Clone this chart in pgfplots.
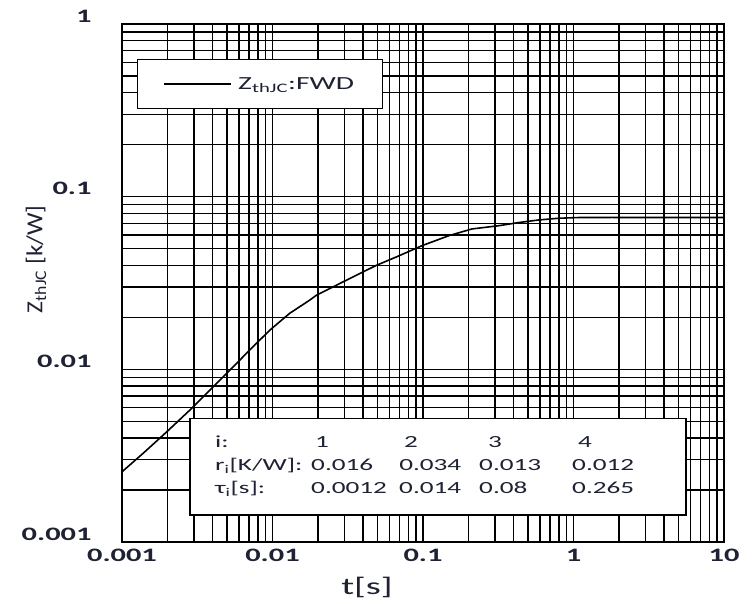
\documentclass[border=0pt]{standalone}
\usepackage{fontspec}
\setmainfont[FakeStretch=1.6]{Carlito}
\newfontfamily\ylabfont[FakeStretch=1.1]{Carlito}
\usepackage{pgfplots}
\pgfplotsset{compat=1.18}
\definecolor{txt}{RGB}{30,34,50}

\begin{document}
\begin{tikzpicture}
\useasboundingbox (-122bp,-62bp) rectangle (632bp,542bp);
\begin{axis}[
  at={(0,0)}, anchor=south west,
  scale only axis, width=602bp, height=518bp,
  xmode=log, ymode=log,
  xmin=0.001, xmax=10, ymin=0.001, ymax=1,
  xtick={0.001,0.01,0.1,1,10}, xticklabels={0.001,0.01,0.1,1,10},
  ytick={0.001,0.01,0.1,1}, yticklabels={0.001,0.01,0.1,1},
  grid=both,
  major grid style={black, line width=1.4bp},
  minor grid style={black, line width=1.4bp},
  axis line style={black, line width=1.5bp},
  major tick length=0pt, minor tick length=0pt,
  tick label style={font=\fontsize{19bp}{23bp}\selectfont\bfseries, text=txt},
  xticklabel style={yshift=-4bp},
  yticklabel style={xshift=-27bp, yshift=8bp},
  xlabel={t[s]},
  ylabel={\ylabfont Z\textsubscript{thJC} [k/W]},
  xlabel style={font=\fontsize{24bp}{28bp}\selectfont, text=txt,
    at={(axis description cs:0.407,-0.088)}, anchor=center},
  ylabel style={font=\fontsize{23bp}{27bp}\selectfont, text=txt,
    at={(axis description cs:-0.143,0.546)}, anchor=center},
  legend style={at={(axis description cs:0.025,0.932)}, anchor=north west,
    draw=black, line width=1.2bp, fill=white, text=txt,
    font=\fontsize{18.5bp}{22bp}\selectfont, inner xsep=26bp, inner ysep=15.5bp,
    column sep=4bp},
  legend image code/.code={\draw[black, line width=1.6bp] (0bp,0bp) -- (67bp,0bp);},
]
\addplot[black, line width=1.6bp] coordinates {
  (0.001,0.00255) (0.00138,0.00326) (0.00198,0.00434) (0.00282,0.00580)
  (0.00383,0.00757) (0.00519,0.00986) (0.00704,0.0129) (0.00955,0.0168)
  (0.0130,0.0211) (0.0176,0.0251) (0.0195,0.0268) (0.0292,0.0320)
  (0.0486,0.0399) (0.0659,0.0446) (0.0989,0.0521) (0.149,0.0595)
  (0.211,0.0650) (0.319,0.0679) (0.432,0.0708) (0.586,0.0733)
  (0.796,0.0750) (1.08,0.0757) (1.79,0.0758) (10,0.0757)
};
\addlegendentry{Z\textsubscript{thJC}:FWD}
% table of Foster parameters
\draw[black, line width=1.2bp, fill=white]
  (rel axis cs:0.113,0.052) rectangle (rel axis cs:0.937,0.239);
\node[anchor=west, text=txt, inner sep=0pt,
  font=\fontsize{17bp}{23bp}\selectfont] at (rel axis cs:0.1545,0.1467) {%
  \begin{tabular}{@{}p{96bp}@{}p{88bp}@{}p{80bp}@{}p{93bp}@{}l@{}}
  i: & \hspace*{4bp}1 & \hspace*{5bp}2 & \hspace*{9bp}3 & \hspace*{6bp}4\\
  r\textsubscript{i}[K/W]: & 0.016 & 0.034 & 0.013 & 0.012\\
  τ\textsubscript{i}[s]: & 0.0012 & 0.014 & 0.08 & 0.265
  \end{tabular}};
\end{axis}
\end{tikzpicture}
\end{document}
